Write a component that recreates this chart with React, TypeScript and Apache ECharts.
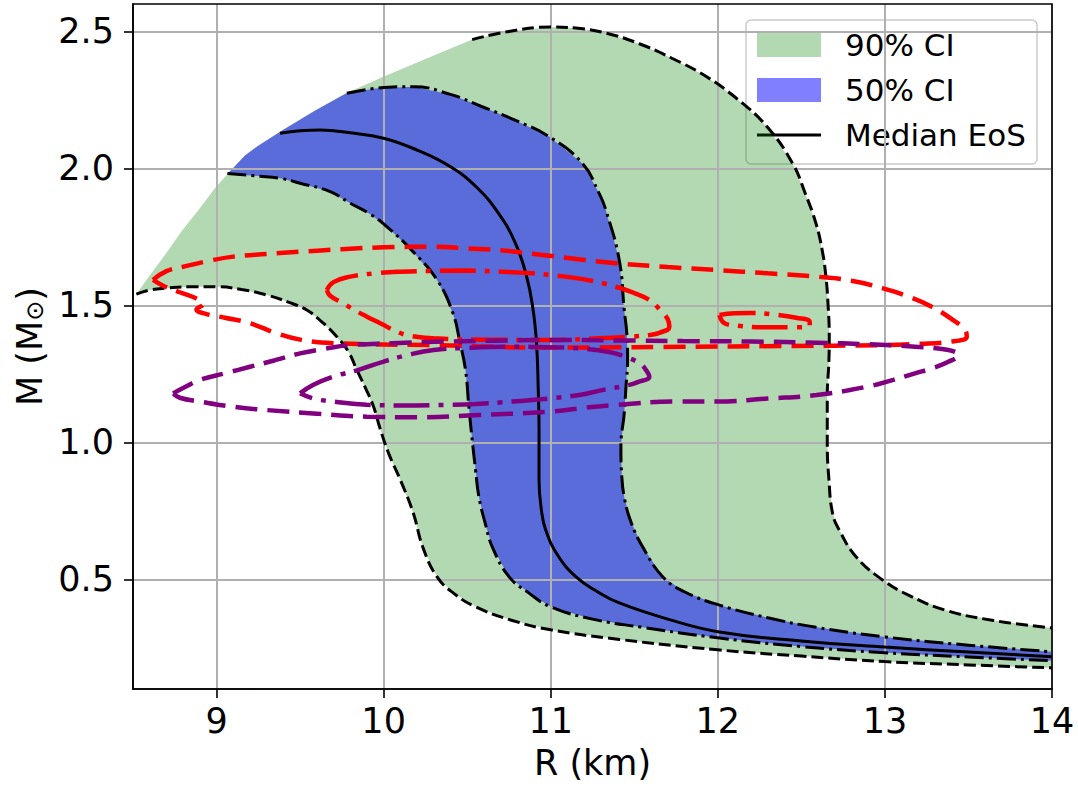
import React, { useEffect, useRef } from "react";
import * as echarts from "echarts";

const FONT = "DejaVu Sans";

const xTicks = [9, 10, 11, 12, 13, 14];
const yTicks = [0.5, 1.0, 1.5, 2.0, 2.5];

// 90% CI, soft edge (black dashed), from max-mass end to low-mass tail
const soft90: number[][] = [
  [8.52, 1.541], [8.6, 1.556], [8.7, 1.563], [8.85, 1.568], [9.0, 1.568], [9.15, 1.558],
  [9.3, 1.538], [9.43, 1.512], [9.54, 1.483], [9.63, 1.44], [9.72, 1.386], [9.79, 1.33],
  [9.84, 1.264], [9.89, 1.2], [9.94, 1.13], [9.976, 1.056], [10.03, 0.96], [10.1, 0.863],
  [10.176, 0.745], [10.236, 0.615], [10.32, 0.509], [10.42, 0.449], [10.55, 0.4],
  [10.76, 0.352], [11.0, 0.316], [11.41, 0.281], [12.0, 0.243], [12.5, 0.22], [13.0, 0.2],
  [13.5, 0.188], [14.0, 0.177],
];
// 90% CI, stiff edge (black dashed)
const stiff90: number[][] = [
  [10.53, 2.47], [10.75, 2.5], [11.0, 2.516], [11.15, 2.512], [11.33, 2.494], [11.53, 2.455],
  [11.722, 2.403], [11.926, 2.337], [12.117, 2.253], [12.296, 2.151], [12.447, 2.019],
  [12.52, 1.914], [12.587, 1.8], [12.625, 1.7], [12.647, 1.605], [12.66, 1.5], [12.667, 1.386],
  [12.665, 1.3], [12.655, 1.167], [12.655, 1.0], [12.665, 0.864], [12.687, 0.741],
  [12.727, 0.68], [12.827, 0.583], [12.986, 0.498], [13.15, 0.44], [13.36, 0.388],
  [13.65, 0.35], [14.0, 0.323],
];
// max-mass envelope between stiff90 start and soft90 start (no line drawn)
const envelope: number[][] = [
  [10.293, 2.41], [9.995, 2.334], [9.779, 2.275], [9.588, 2.21], [9.397, 2.14], [9.247, 2.082],
  [9.17, 2.047], [9.098, 2.001], [8.996, 1.932], [8.9, 1.855], [8.793, 1.772], [8.691, 1.684],
  [8.602, 1.611],
];
// 50% CI, soft edge (black dash-dot)
const lower50: number[][] = [
  [9.065, 1.981], [9.25, 1.972], [9.38, 1.964], [9.5, 1.946], [9.68, 1.915], [9.8, 1.873],
  [9.92, 1.833], [10.02, 1.787], [10.17, 1.7], [10.32, 1.593], [10.415, 1.471], [10.455, 1.37],
  [10.49, 1.264], [10.51, 1.13], [10.53, 1.009], [10.55, 0.9], [10.57, 0.802], [10.61, 0.7],
  [10.65, 0.619], [10.75, 0.51], [10.87, 0.45], [11.0, 0.4], [11.25, 0.355], [11.54, 0.326],
  [12.01, 0.286], [12.5, 0.255], [13.0, 0.232], [13.5, 0.217], [14.0, 0.203],
];
// 50% CI, stiff edge (black dash-dot)
const upper50: number[][] = [
  [9.78, 2.274], [9.95, 2.292], [10.18, 2.298], [10.4, 2.27], [10.59, 2.225], [10.79, 2.175],
  [10.99, 2.116], [11.19, 2.018], [11.29, 1.909], [11.33, 1.848], [11.41, 1.666], [11.44, 1.483],
  [11.455, 1.4], [11.46, 1.3], [11.45, 1.2], [11.44, 1.107], [11.42, 0.984], [11.425, 0.88],
  [11.44, 0.8], [11.48, 0.71], [11.55, 0.619], [11.67, 0.51], [11.8, 0.455], [12.01, 0.406],
  [12.3, 0.36], [12.58, 0.326], [13.0, 0.29], [13.5, 0.26], [14.0, 0.236],
];
// median EoS (black solid)
const median: number[][] = [
  [9.38, 2.128], [9.5, 2.137], [9.62, 2.14], [9.8, 2.13], [10.0, 2.11], [10.2, 2.067],
  [10.4, 2.006], [10.555, 1.932], [10.69, 1.834], [10.789, 1.726], [10.855, 1.608],
  [10.894, 1.486], [10.915, 1.362], [10.925, 1.2], [10.93, 1.05], [10.93, 0.863],
  [10.945, 0.75], [10.97, 0.68], [11.04, 0.59], [11.15, 0.51], [11.28, 0.455], [11.41, 0.414],
  [11.7, 0.355], [12.01, 0.308], [12.5, 0.275], [13.0, 0.253], [13.5, 0.235], [14.0, 0.218],
];
// red 90% contour (dashed)
const red90: number[][] = [
  [8.62, 1.593], [8.7, 1.625], [8.8, 1.641], [8.95, 1.662], [9.1, 1.678], [9.3, 1.688],
  [9.5, 1.696], [9.75, 1.705], [10.0, 1.712], [10.3, 1.714], [10.5, 1.708], [10.69, 1.702],
  [10.95, 1.684], [11.2, 1.666], [11.39, 1.654], [11.7, 1.64], [11.99, 1.629], [12.3, 1.617],
  [12.59, 1.605], [12.8, 1.59], [12.99, 1.562], [13.15, 1.53], [13.28, 1.495], [13.4, 1.45],
  [13.48, 1.41], [13.49, 1.386], [13.38, 1.367], [13.2, 1.36], [12.99, 1.355], [12.39, 1.352],
  [11.79, 1.349], [10.99, 1.346], [10.3, 1.355], [9.7, 1.362], [9.5, 1.375], [9.36, 1.398],
  [9.2, 1.435], [9.05, 1.455], [8.93, 1.47], [8.88, 1.485], [8.92, 1.505], [8.88, 1.525],
  [8.78, 1.548], [8.68, 1.572], [8.62, 1.593],
];
// red 50% contour (dash-dot), main loop and small island
const red50: number[][] = [
  [9.66, 1.556], [9.7, 1.585], [9.8, 1.605], [9.95, 1.617], [10.1, 1.623], [10.3, 1.626],
  [10.5, 1.627], [10.7, 1.623], [10.89, 1.617], [11.0, 1.611], [11.2, 1.595], [11.39, 1.568],
  [11.5, 1.545], [11.59, 1.52], [11.66, 1.48], [11.7, 1.45], [11.71, 1.422], [11.65, 1.4],
  [11.59, 1.392], [11.45, 1.385], [11.29, 1.38], [10.99, 1.374], [10.6, 1.375], [10.3, 1.38],
  [10.15, 1.39], [10.06, 1.41], [9.98, 1.435], [9.9, 1.459], [9.82, 1.485], [9.74, 1.514],
  [9.68, 1.535], [9.66, 1.556],
];
const red50b: number[][] = [
  [12.01, 1.465], [12.1, 1.471], [12.19, 1.472], [12.35, 1.466], [12.47, 1.455], [12.55, 1.44],
  [12.55, 1.425], [12.45, 1.42], [12.29, 1.42], [12.12, 1.426], [12.04, 1.435], [12.01, 1.465],
];
// purple 90% contour (dashed)
const purple90: number[][] = [
  [8.74, 1.179], [8.82, 1.205], [8.9, 1.228], [9.05, 1.252], [9.2, 1.276], [9.35, 1.3],
  [9.5, 1.325], [9.65, 1.342], [9.8, 1.355], [10.05, 1.362], [10.3, 1.367], [10.65, 1.371],
  [10.99, 1.374], [11.4, 1.372], [11.79, 1.37], [12.2, 1.368], [12.59, 1.364], [12.9, 1.358],
  [13.18, 1.349], [13.38, 1.337], [13.44, 1.319], [13.38, 1.294], [13.28, 1.27], [13.18, 1.252],
  [13.05, 1.228], [12.89, 1.203], [12.59, 1.173], [12.3, 1.16], [11.99, 1.149], [11.77, 1.149],
  [11.39, 1.137], [11.17, 1.124], [10.99, 1.112], [10.57, 1.1], [10.2, 1.092], [9.9, 1.094],
  [9.6, 1.105], [9.3, 1.118], [9.1, 1.13], [8.9, 1.149], [8.78, 1.163], [8.74, 1.179],
];
// purple 50% contour (dash-dot)
const purple50: number[][] = [
  [9.5, 1.179], [9.58, 1.21], [9.7, 1.24], [9.85, 1.265], [10.0, 1.295], [10.15, 1.32],
  [10.3, 1.337], [10.5, 1.345], [10.77, 1.349], [10.99, 1.347], [11.17, 1.343], [11.35, 1.33],
  [11.47, 1.307], [11.54, 1.285], [11.57, 1.264], [11.59, 1.24], [11.52, 1.22], [11.47, 1.21],
  [11.3, 1.19], [11.17, 1.173], [10.99, 1.16], [10.77, 1.149], [10.55, 1.14], [10.38, 1.137],
  [10.1, 1.135], [9.9, 1.137], [9.7, 1.149], [9.58, 1.16], [9.5, 1.179],
];

const GREEN = "rgba(0,128,0,0.3)";
const BLUE = "rgba(0,0,255,0.5)";
const RED = "#ff0000";
const PURPLE = "#800080";

const BLACK_W = 3;
const CONT_W = 4.5;
const DASH_K = [12, 5];
const DASHDOT_K = [19, 5, 3, 5];
const DASH_C = [22, 10];
const DASHDOT_C = [36, 9, 5, 9];

function polySeries(name: string, pts: number[][], fill: string) {
  return {
    type: "custom",
    name,
    z: 1,
    clip: true,
    silent: true,
    data: [[pts[0][0], pts[0][1]]],
    renderItem: (_p: any, api: any) => ({
      type: "polygon",
      shape: { points: pts.map((p) => api.coord(p)) },
      style: { fill, stroke: "none" },
    }),
  };
}

function lineSeries(name: string, data: number[][], color: string, width: number, type: any, smooth = 0.45) {
  return {
    type: "line",
    name,
    z: 3,
    data,
    showSymbol: false,
    symbol: "none",
    smooth,
    silent: true,
    lineStyle: { color, width, type, cap: "butt" },
  };
}

export default function App() {
  const ref = useRef<HTMLDivElement>(null);
  useEffect(() => {
    document.body.style.margin = "0";
    const chart = echarts.init(ref.current!, null, { renderer: "svg" });

    const greenPoly = [...soft90, ...[...stiff90].reverse(), ...envelope];
    const envBlue = envelope.filter((p) => p[0] > lower50[0][0] && p[0] < upper50[0][0]);
    const bluePoly = [...[...upper50].reverse(), ...envBlue, ...lower50];

    const tickStyle = { color: "#000", width: 1.6 };
    const option: any = {
      animation: false,
      textStyle: { fontFamily: FONT },
      grid: {
        left: 133, top: 4, right: 26, bottom: 98, show: true, z: 4,
        borderColor: "#000", borderWidth: 1.6, backgroundColor: "transparent",
      },
      xAxis: {
        type: "value", min: 8.5, max: 14, z: 2,
        name: "R (km)", nameLocation: "middle", nameGap: 56,
        nameTextStyle: { fontSize: 35, color: "#000", fontFamily: FONT },
        axisLine: { show: true, onZero: false, lineStyle: tickStyle },
        axisTick: { show: true, length: 9, lineStyle: tickStyle, customValues: xTicks },
        axisLabel: {
          customValues: xTicks, fontSize: 35, color: "#000", fontFamily: FONT, margin: 14,
          formatter: (v: number) => String(v),
        },
        splitLine: { show: true, lineStyle: { color: "#b0b0b0", width: 2 } },
      },
      yAxis: {
        type: "value", min: 0.1, max: 2.6, z: 2,
        name: "M (M{sub|⊙})", nameLocation: "middle", nameGap: 82, nameRotate: 90,
        nameTextStyle: {
          fontSize: 35, color: "#000", fontFamily: FONT,
          rich: { sub: { fontSize: 24, color: "#000", fontFamily: FONT, verticalAlign: "bottom" } },
        },
        axisLine: { show: true, onZero: false, lineStyle: tickStyle },
        axisTick: { show: true, length: 9, lineStyle: tickStyle, customValues: yTicks },
        axisLabel: {
          customValues: yTicks, fontSize: 35, color: "#000", fontFamily: FONT, margin: 19,
          formatter: (v: number) => v.toFixed(1),
        },
        splitLine: { show: true, lineStyle: { color: "#b0b0b0", width: 2 } },
      },
      series: [
        polySeries("90% CI", greenPoly, GREEN),
        polySeries("50% CI", bluePoly, BLUE),
        lineSeries("soft90", soft90, "#000", BLACK_W, DASH_K),
        lineSeries("stiff90", stiff90, "#000", BLACK_W, DASH_K),
        lineSeries("lower50", lower50, "#000", BLACK_W, DASHDOT_K),
        lineSeries("upper50", upper50, "#000", BLACK_W, DASHDOT_K),
        lineSeries("Median EoS", median, "#000", BLACK_W, "solid"),
        lineSeries("red90", red90, RED, CONT_W, DASH_C),
        lineSeries("red50", red50, RED, CONT_W, DASHDOT_C),
        lineSeries("red50b", red50b, RED, CONT_W, DASHDOT_C),
        lineSeries("purple90", purple90, PURPLE, CONT_W, DASH_C),
        lineSeries("purple50", purple50, PURPLE, CONT_W, DASHDOT_C),
      ],
      graphic: [
        {
          type: "group", z: 10, silent: true,
          children: [
            {
              type: "rect", shape: { x: 746, y: 20, width: 291, height: 144, r: 5 },
              style: { fill: "rgba(255,255,255,0.8)", stroke: "#cccccc", lineWidth: 1.5 },
            },
            { type: "rect", shape: { x: 757, y: 33, width: 64, height: 24 }, style: { fill: GREEN } },
            { type: "rect", shape: { x: 757, y: 78, width: 64, height: 24 }, style: { fill: BLUE } },
            {
              type: "line", shape: { x1: 757, y1: 135, x2: 821, y2: 135 },
              style: { stroke: "#000", lineWidth: 3 },
            },
            {
              type: "text", x: 845, y: 45,
              style: { text: "90% CI", font: `31px ${FONT}`, fill: "#000", verticalAlign: "middle" },
            },
            {
              type: "text", x: 845, y: 90,
              style: { text: "50% CI", font: `31px ${FONT}`, fill: "#000", verticalAlign: "middle" },
            },
            {
              type: "text", x: 845, y: 135,
              style: { text: "Median EoS", font: `31px ${FONT}`, fill: "#000", verticalAlign: "middle" },
            },
          ],
        },
      ],
    };
    chart.setOption(option);
    return () => chart.dispose();
  }, []);
  return <div ref={ref} style={{ width: 1078, height: 787 }} />;
}
